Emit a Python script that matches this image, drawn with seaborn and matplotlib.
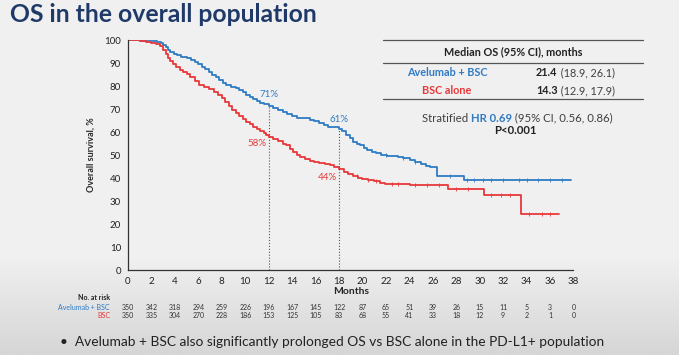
import numpy as np
import pandas as pd
import seaborn as sns
import matplotlib.pyplot as plt
from matplotlib.lines import Line2D

# --- data ---
blue_months = [0, 1.0, 1.5, 2.0, 2.5, 2.8, 3.0, 3.2, 3.4, 3.6, 3.9, 4.2, 4.5, 5.0, 5.4, 5.7,
               6.0, 6.3, 6.6, 6.9, 7.2, 7.5, 7.8, 8.1, 8.4, 8.8, 9.2, 9.5, 9.8, 10.1, 10.4,
               10.7, 11.0, 11.3, 11.6, 12.0, 12.4, 12.8, 13.2, 13.6, 14.0, 14.4, 15.0, 15.5,
               15.9, 16.3, 16.7, 17.1, 17.5, 18.0, 18.3, 18.6, 18.9, 19.2, 19.5, 19.8, 20.1,
               20.4, 20.8, 21.2, 21.6, 22.1, 22.6, 23.0, 23.5, 24.1, 24.5, 25.0, 25.4, 25.8,
               26.4, 28.7, 37.8]
blue_surv = [100, 99.8, 99.6, 99.4, 99.2, 98.8, 98.0, 97.0, 95.8, 94.8, 94.0, 93.4, 92.6, 92.2,
             91.5, 90.6, 89.5, 88.4, 87.3, 86.2, 84.9, 83.8, 82.6, 81.4, 80.4, 79.8, 79.2, 78.4,
             77.4, 76.3, 75.3, 74.4, 73.6, 72.8, 72.0, 71.2, 70.4, 69.6, 68.8, 67.8, 66.8, 66.2,
             66.0, 65.4, 64.6, 63.9, 63.2, 62.4, 62.0, 61.5, 60.3, 58.8, 57.3, 55.8, 55.0, 54.2,
             53.2, 52.0, 51.5, 50.8, 50.0, 49.6, 49.4, 49.0, 48.6, 47.9, 47.0, 46.1, 45.3, 44.7,
             41.0, 39.3, 39.3]

red_months = [0, 1.0, 1.5, 2.0, 2.4, 2.7, 3.0, 3.2, 3.4, 3.6, 3.8, 4.1, 4.4, 4.7, 5.0, 5.3,
              5.7, 6.1, 6.5, 6.9, 7.3, 7.7, 8.0, 8.3, 8.6, 8.9, 9.2, 9.5, 9.8, 10.1, 10.4, 10.7,
              11.0, 11.3, 11.6, 11.8, 12.0, 12.4, 12.8, 13.2, 13.5, 13.8, 14.1, 14.4, 14.7,
              15.1, 15.5, 15.9, 16.3, 16.8, 17.2, 17.6, 18.0, 18.4, 18.8, 19.2, 19.6, 20.0,
              20.5, 21.0, 21.5, 21.9, 23.0, 24.1, 27.3, 30.4, 33.5, 36.8]
red_surv = [100, 99.7, 99.3, 98.8, 98.2, 97.4, 95.8, 94.0, 92.4, 91.0, 89.8, 88.4, 87.0, 86.0,
            85.2, 84.0, 82.4, 80.6, 79.4, 78.6, 77.6, 76.2, 74.8, 73.2, 71.4, 69.6, 68.2, 67.0,
            65.6, 64.4, 63.4, 62.4, 61.5, 60.6, 59.5, 58.8, 58.0, 57.0, 56.0, 55.0, 54.2, 52.8,
            51.2, 50.0, 49.0, 48.2, 47.6, 47.1, 46.6, 46.0, 45.5, 44.8, 43.8, 42.8, 41.8, 40.8,
            40.0, 39.4, 39.0, 38.6, 38.0, 37.5, 37.3, 37.0, 35.2, 32.6, 24.3, 24.3]

blue_censor = [22.0, 23.5, 24.5, 27.5, 28.9, 29.5, 30.3, 31.0, 32.0, 33.4, 34.0, 35.0, 36.0, 37.0]
red_censor = [19.5, 20.5, 21.2, 22.5, 23.0, 24.5, 25.5, 26.5, 28.0, 29.0, 31.0, 31.8, 32.6,
              34.2, 35.3, 36.0]

tick_months = list(range(0, 39, 2))
risk_blue = [350, 342, 318, 294, 259, 226, 196, 167, 145, 122, 87, 65, 51, 39, 26, 15, 11, 5, 3, 0]
risk_red = [350, 335, 304, 270, 228, 186, 153, 125, 105, 83, 68, 55, 41, 33, 18, 12, 9, 2, 1, 0]

arms = ["Avelumab + BSC", "BSC alone"]
BLUE = "#2f7cc4"
RED = "#e8393b"
GREY = "#404040"
NAVY = "#1f3a68"

sns.set_style("white")
plt.rcParams["font.family"] = ["Lato", "DejaVu Sans"]

fig = plt.figure(figsize=(6.79, 3.55), dpi=100)

# soft grey band at the bottom of the slide
bg = fig.add_axes([0, 0, 1, 1], zorder=-10)
grad = np.linspace(0, 1, 256).reshape(-1, 1)
grad = np.clip((grad - 0.72) / 0.28, 0, 1)
bg.imshow(grad, aspect="auto", cmap=sns.light_palette("#d6d6d6", as_cmap=True),
          extent=[0, 1, 0, 1], origin="upper", vmin=0, vmax=1)
bg.axis("off")

ax = fig.add_axes([0.1885, 0.2394, 0.656, 0.6476])
ax.patch.set_alpha(0)

df = pd.concat([
    pd.DataFrame({"month": blue_months, "surv": blue_surv, "arm": arms[0]}),
    pd.DataFrame({"month": red_months, "surv": red_surv, "arm": arms[1]}),
])
sns.lineplot(data=df, x="month", y="surv", hue="arm", palette=[BLUE, RED],
             drawstyle="steps-post", estimator=None, linewidth=1.3, legend=False, ax=ax)


def step_at(t, xs, ys):
    idx = np.searchsorted(xs, t, side="right") - 1
    return np.asarray(ys)[idx]


cens = pd.concat([
    pd.DataFrame({"month": blue_censor, "surv": step_at(blue_censor, blue_months, blue_surv), "arm": arms[0]}),
    pd.DataFrame({"month": red_censor, "surv": step_at(red_censor, red_months, red_surv), "arm": arms[1]}),
])
sns.scatterplot(data=cens, x="month", y="surv", hue="arm", palette=[BLUE, RED],
                marker="|", s=7, linewidth=0.6, legend=False, ax=ax)

# dotted landmarks
ax.plot([12, 12], [0, 71.2], ls=":", color="#555555", lw=0.8)
ax.plot([18, 18], [0, 61.5], ls=":", color="#555555", lw=0.8)
ax.text(12, 76.5, "71%", color=BLUE, fontsize=7, ha="center", va="center")
ax.text(18, 65.5, "61%", color=BLUE, fontsize=7, ha="center", va="center")
ax.text(11.0, 54.9, "58%", color=RED, fontsize=7, ha="center", va="center")
ax.text(17.0, 40.3, "44%", color=RED, fontsize=7, ha="center", va="center")

ax.set_xlim(0, 38)
ax.set_ylim(0, 100)
ax.set_xticks(tick_months)
ax.set_yticks(range(0, 101, 10))
ax.tick_params(axis="both", labelsize=7, length=3, width=0.8, direction="out",
               colors="#222222", pad=2)
ax.set_xlabel("Months", fontsize=7.5, fontweight="bold", labelpad=1)
ax.set_ylabel("Overall survival, %", fontsize=6.5, fontweight="bold", labelpad=6)
for s in ["top", "right"]:
    ax.spines[s].set_visible(False)
for s in ["left", "bottom"]:
    ax.spines[s].set_color("#333333")
    ax.spines[s].set_linewidth(0.9)

# numbers at risk
fig.text(110 / 679, 1 - 297 / 355, "No. at risk", fontsize=5, fontweight="bold",
         ha="right", va="center", color="#222222")
fig.text(110 / 679, 1 - 307 / 355, "Avelumab + BSC", fontsize=5, ha="right", va="center", color=BLUE)
fig.text(110 / 679, 1 - 316 / 355, "BSC", fontsize=5, ha="right", va="center", color=RED)
for m, nb, nr in zip(tick_months, risk_blue, risk_red):
    ax.annotate(str(nb), xy=(m, 0), xycoords=("data", "axes fraction"),
                xytext=(m, 1 - 307 / 355), textcoords=("data", "figure fraction"),
                fontsize=5, ha="center", va="center", color="#333333")
    ax.annotate(str(nr), xy=(m, 0), xycoords=("data", "axes fraction"),
                xytext=(m, 1 - 316 / 355), textcoords=("data", "figure fraction"),
                fontsize=5, ha="center", va="center", color="#333333")

# title
fig.text(10 / 679, 1 - 15 / 355, "OS in the overall population", fontsize=17.8,
         fontweight="bold", color=NAVY, ha="left", va="center")

# median OS table
TS = 7.8
for yy in [40, 63, 99]:
    fig.add_artist(Line2D([383 / 679, 643 / 679], [1 - yy / 355] * 2, color="#555555", lw=0.9))
fig.text(513 / 679, 1 - 52 / 355, "Median OS (95% CI), months", fontsize=TS,
         fontweight="bold", ha="center", va="center", color="#222222")
fig.text(447 / 679, 1 - 73 / 355, "Avelumab + BSC", fontsize=TS, fontweight="bold",
         ha="center", va="center", color=BLUE)
fig.text(447 / 679, 1 - 91 / 355, "BSC alone", fontsize=TS, fontweight="bold",
         ha="center", va="center", color=RED)

renderer = fig.canvas.get_renderer()


def text_run(x_px, y_px, parts, size=TS):
    x = x_px
    for txt, color, weight in parts:
        t = fig.text(x / 679, 1 - y_px / 355, txt, fontsize=size, fontweight=weight,
                     color=color, ha="left", va="center")
        x += t.get_window_extent(renderer).width
    return x


text_run(536, 73, [("21.4", "#222222", "bold"), (" (18.9, 26.1)", GREY, "normal")])
text_run(536, 91, [("14.3", "#222222", "bold"), (" (12.9, 17.9)", GREY, "normal")])
text_run(422, 118, [("Stratified ", GREY, "normal"), ("HR 0.69", BLUE, "bold"),
                    (" (95% CI, 0.56, 0.86)", GREY, "normal")], size=8.2)
fig.text(515 / 679, 1 - 131 / 355, "P<0.001", fontsize=8.2, fontweight="bold",
         ha="center", va="center", color="#222222")

# bullet
fig.text(60 / 679, 1 - 342 / 355,
         "\u2022  Avelumab + BSC also significantly prolonged OS vs BSC alone in the PD-L1+ population",
         fontsize=9.9, color="#222222", ha="left", va="center")

fig.savefig("out.png", dpi=100)
